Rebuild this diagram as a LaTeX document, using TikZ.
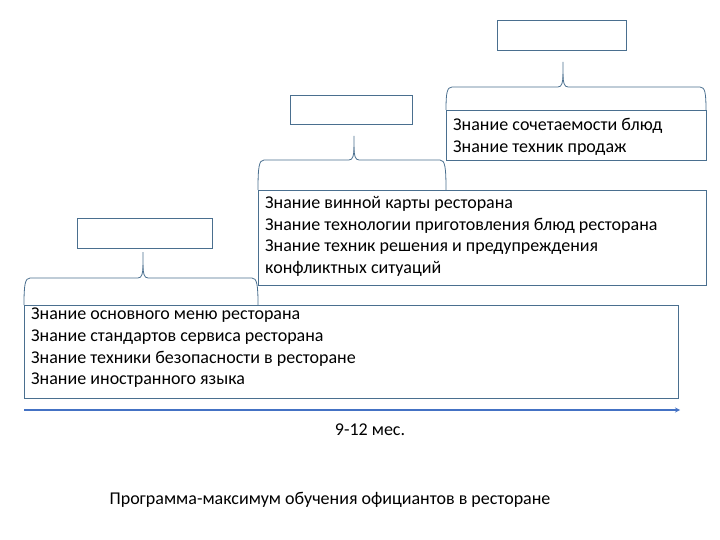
\documentclass[tikz,border=0pt]{standalone}
\usepackage{fontspec}
\setmainfont{Carlito}
\tikzset{
  lbox/.style={draw=boxc, line width=0.8pt, rectangle, inner sep=0pt},
  brc/.style={draw=boxc, line width=0.8pt},
  txt/.style={anchor=north west, align=left, inner sep=0pt, font=\fontsize{18}{21.7}\selectfont}
}
\definecolor{boxc}{HTML}{4A6F8F}
\definecolor{arr}{HTML}{4472C4}
\begin{document}
\begin{tikzpicture}[x=1pt,y=-1pt]
\useasboundingbox (0,0) rectangle (720,540);
% boxes
\node[lbox, minimum width=129pt, minimum height=30pt] (c) at (561.5,35) {};
\node[lbox, minimum width=122pt, minimum height=29pt] (b) at (351,109.5) {};
\node[lbox, minimum width=135pt, minimum height=30pt] (a) at (144.5,233) {};
\node[lbox, minimum width=260pt, minimum height=50pt] (t3) at (576,135) {};
\node[lbox, minimum width=448pt, minimum height=95pt] (t2) at (482,237.5) {};
\node[lbox, minimum width=654pt, minimum height=93pt] (t1) at (351,351.5) {};
% braces
\draw[brc] (446,110) .. controls (446,93) and (447,87) .. (452,87) -- (558,87) .. controls (562,87) and (563,82) .. (563,74) -- (563,62);
\draw[brc] (706,110) .. controls (706,93) and (705,87) .. (700,87) -- (568,87) .. controls (564,87) and (563,82) .. (563,74);
\draw[brc] (258,190) .. controls (258,167) and (259,160) .. (264,160) -- (349,160) .. controls (353,160) and (354,155) .. (354,147) -- (354,136);
\draw[brc] (446,190) .. controls (446,167) and (445,160) .. (440,160) -- (359,160) .. controls (355,160) and (354,155) .. (354,147);
\draw[brc] (24,305) .. controls (24,285) and (25,278) .. (30,278) -- (138,278) .. controls (142,278) and (143,273) .. (143,265) -- (143,252);
\draw[brc] (258,305) .. controls (258,285) and (257,278) .. (252,278) -- (148,278) .. controls (144,278) and (143,273) .. (143,265);
% texts
\node[txt] (x3) at (453,118) {Знание сочетаемости блюд\\Знание техник продаж};
\node[txt] (x2) at (265,196) {Знание винной карты ресторана\\Знание технологии приготовления блюд ресторана\\Знание техник решения и предупреждения\\конфликтных ситуаций};
\node[txt] (x1) at (31,308) {Знание основного меню ресторана\\Знание стандартов сервиса ресторана\\Знание техники безопасности в ресторане\\Знание иностранного языка};
% arrow
\coordinate (s) at (24,410);
\coordinate (e) at (680,410);
\draw[arr, line width=1.2pt, -stealth] (s) -- (e);
\node[font=\fontsize{18}{21}\selectfont] (m) at (370,430) {9-12 мес.};
\node[font=\fontsize{18}{21}\selectfont] (ttl) at (330,500) {Программа-максимум обучения официантов в ресторане};
\end{tikzpicture}
\end{document}
